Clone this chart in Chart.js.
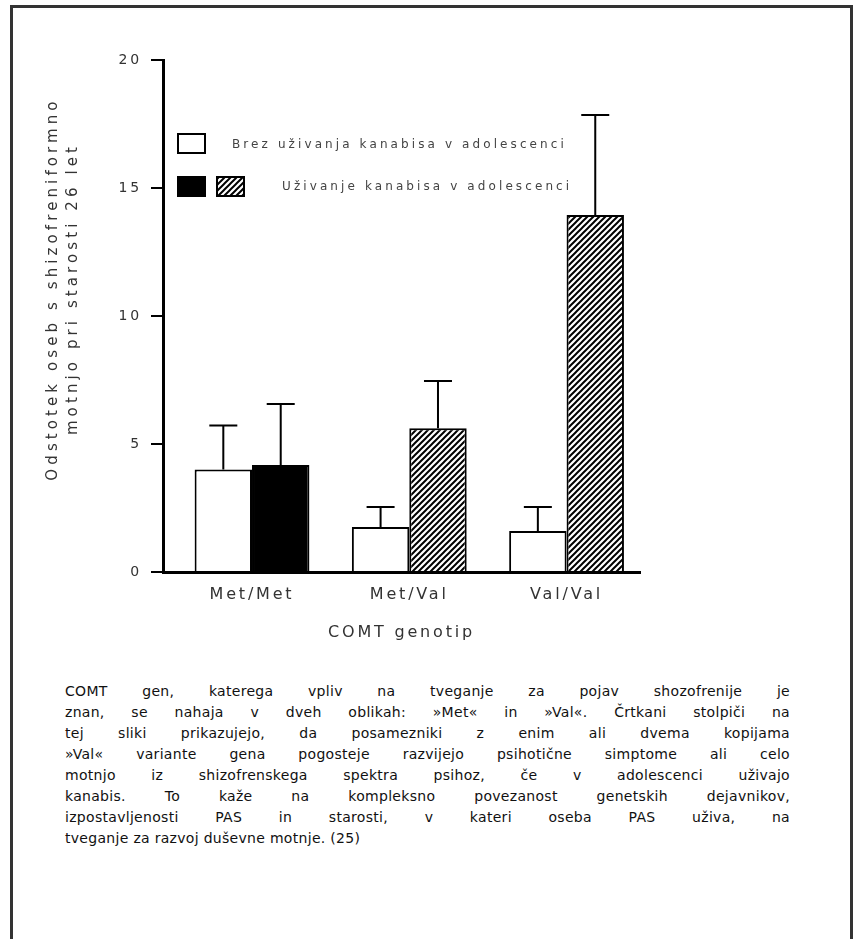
<!DOCTYPE html>
<html>
<head>
<meta charset="utf-8">
<script src="https://cdn.jsdelivr.net/npm/chart.js@4.4.1/dist/chart.umd.min.js"></script>
<style>
  body { margin: 0; background: #fff; overflow: hidden; width: 854px; height: 939px; position: relative; font-family: "DejaVu Sans", Verdana, sans-serif; }
  #frame { position: absolute; left: 10px; top: 5px; width: 837px; height: 1000px; border: 3px solid #333; border-bottom: none; }
  #wrap { position: absolute; left: 0; top: 0; width: 854px; height: 660px; }
  #ytitle { position: absolute; left: -148px; top: 269px; width: 420px; height: 40px; line-height: 20px;
            text-align: center; transform: rotate(-90deg); font-size: 15px; letter-spacing: 4.1px; color: #333; white-space: nowrap; }
  .lbox { position: absolute; width: 25px; height: 17px; border: 2px solid #000; background: #fff; }
  .ltext { position: absolute; font-size: 12px; letter-spacing: 3.1px; color: #444; white-space: nowrap; line-height: 14px; }
  #caption { position: absolute; left: 65px; top: 681px; width: 725px; font-size: 14px; letter-spacing: 0.3px; line-height: 21px; color: #111; }
  #caption div { text-align: justify; text-align-last: justify; white-space: nowrap; }
  #caption div.last { text-align-last: left; }
</style>
</head>
<body>
<div id="frame"></div>
<div id="wrap"><canvas id="chart"></canvas></div>
<div id="ytitle">Odstotek oseb s shizofreniformno<br>motnjo pri starosti 26 let</div>

<div class="lbox" style="left:177px; top:133px;"></div>
<div class="ltext" style="left:232px; top:137px;">Brez uživanja kanabisa v adolescenci</div>
<div class="lbox" style="left:177px; top:176px; background:#000;"></div>
<div class="lbox" id="hatchbox" style="left:216px; top:176px;"></div>
<div class="ltext" style="left:282px; top:179px;">Uživanje kanabisa v adolescenci</div>

<div id="caption">
  <div>COMT gen, katerega vpliv na tveganje za pojav shozofrenije je</div>
  <div>znan, se nahaja v dveh oblikah: »Met« in »Val«. Črtkani stolpiči na</div>
  <div>tej sliki prikazujejo, da posamezniki z enim ali dvema kopijama</div>
  <div>»Val« variante gena pogosteje razvijejo psihotične simptome ali celo</div>
  <div>motnjo iz shizofrenskega spektra psihoz, če v adolescenci uživajo</div>
  <div>kanabis. To kaže na kompleksno povezanost genetskih dejavnikov,</div>
  <div>izpostavljenosti PAS in starosti, v kateri oseba PAS uživa, na</div>
  <div class="last">tveganje za razvoj duševne motnje. (25)</div>
</div>

<script>
// data
var genotypes = ['Met/Met', 'Met/Val', 'Val/Val'];
var noCannabis = [4.0, 1.76, 1.6];
var noCannabisErr = [1.72, 0.78, 0.94];
var cannabis = [4.18, 5.62, 13.95];
var cannabisErr = [2.38, 1.84, 3.9];
var yTicks = [0, 5, 10, 15, 20];

// diagonal hatch
function makeHatch() {
    var c = document.createElement('canvas');
    c.width = 6; c.height = 6;
    var g = c.getContext('2d');
    g.fillStyle = '#fff';
    g.fillRect(0, 0, 6, 6);
    g.strokeStyle = '#000';
    g.lineWidth = 2;
    g.beginPath();
    g.moveTo(-3, 3); g.lineTo(3, -3);
    g.moveTo(0, 6); g.lineTo(6, 0);
    g.moveTo(3, 9); g.lineTo(9, 3);
    g.stroke();
    return c;
}
var hatchCanvas = makeHatch();
var hatch = document.getElementById('chart').getContext('2d').createPattern(hatchCanvas, 'repeat');
document.getElementById('hatchbox').style.background = 'url(' + hatchCanvas.toDataURL() + ')';

var errorBars = {
    id: 'errorBars',
    afterDatasetsDraw: function(chart) {
        var ctx = chart.ctx;
        var y = chart.scales.y;
        var errs = [noCannabisErr, cannabisErr];
        ctx.save();
        ctx.strokeStyle = '#000';
        ctx.lineWidth = 2;
        chart.data.datasets.forEach(function(ds, d) {
            chart.getDatasetMeta(d).data.forEach(function(bar, i) {
                var top = y.getPixelForValue(ds.data[i].y + errs[d][i]);
                ctx.beginPath();
                ctx.moveTo(bar.x, bar.y);
                ctx.lineTo(bar.x, top);
                ctx.moveTo(bar.x - 14, top);
                ctx.lineTo(bar.x + 14, top);
                ctx.stroke();
            });
        });
        ctx.restore();
    }
};

var spacing = {
    id: 'spacing',
    beforeDraw: function(chart) { chart.ctx.letterSpacing = '2.8px'; }
};

new Chart(document.getElementById('chart'), {
    type: 'bar',
    data: {
        datasets: [{
            label: 'Brez uživanja kanabisa v adolescenci',
            data: genotypes.map(function(g, i) { return {x: i, y: noCannabis[i]}; }),
            backgroundColor: '#fff',
            borderColor: '#000',
            borderWidth: 2
        }, {
            label: 'Uživanje kanabisa v adolescenci',
            data: genotypes.map(function(g, i) { return {x: i, y: cannabis[i]}; }),
            backgroundColor: ['#000', hatch, hatch],
            borderColor: '#000',
            borderWidth: 2
        }]
    },
    options: {
        responsive: true,
        maintainAspectRatio: false,
        animation: false,
        categoryPercentage: 0.73,
        barPercentage: 1.0,
        layout: { padding: { left: 0, top: 60, right: 214, bottom: 0 } },
        plugins: { legend: { display: false }, tooltip: { enabled: false } },
        scales: {
            x: {
                type: 'linear',
                offset: false,
                min: -0.566,
                max: 2.467,
                afterBuildTicks: function(scale) {
                    scale.ticks = genotypes.map(function(g, i) { return {value: i}; });
                },
                afterFit: function(scale) { scale.height = 88; },
                grid: { display: false, drawTicks: false, offset: false },
                border: { display: true, color: '#000', width: 3 },
                ticks: {
                    padding: 13,
                    maxRotation: 0,
                    color: '#333',
                    font: { family: 'DejaVu Sans', size: 16 },
                    callback: function(v) { return genotypes[v]; }
                },
                title: {
                    display: true,
                    text: 'COMT genotip',
                    color: '#333',
                    font: { family: 'DejaVu Sans', size: 16 },
                    padding: { top: 0, bottom: 18 }
                }
            },
            y: {
                min: 0,
                max: 20,
                afterBuildTicks: function(scale) {
                    scale.ticks = yTicks.map(function(v) { return {value: v}; });
                },
                afterFit: function(scale) { scale.width = 163; },
                grid: { drawOnChartArea: false, drawTicks: true, tickLength: 12, color: '#000', lineWidth: 2 },
                border: { display: true, color: '#000', width: 3 },
                ticks: {
                    padding: 9,
                    color: '#333',
                    font: { family: 'DejaVu Sans', size: 14 }
                }
            }
        }
    },
    plugins: [errorBars, spacing]
});
</script>
</body>
</html>
